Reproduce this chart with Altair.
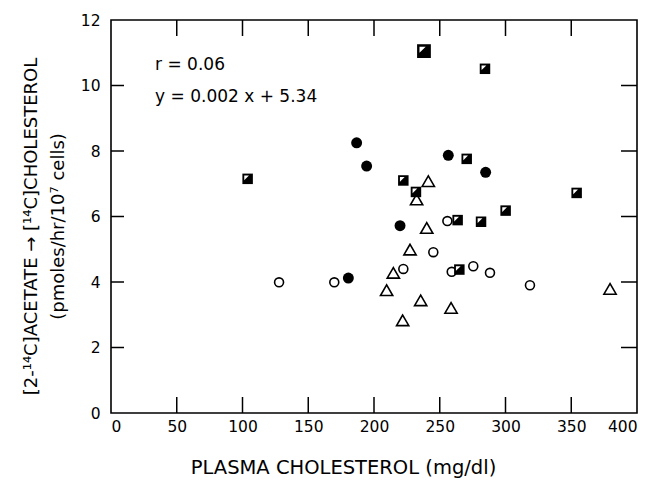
import altair as alt
import pandas as pd

# Filled circles
fc_x = [186.8, 194.4, 256.5, 284.9, 219.8, 180.5]
fc_y = [8.25, 7.54, 7.87, 7.35, 5.72, 4.12]
# Open circles
oc_x = [127.8, 169.8, 255.8, 245.1, 222.3, 259.1, 275.5, 288.2, 318.6]
oc_y = [3.99, 3.99, 5.86, 4.91, 4.40, 4.31, 4.48, 4.28, 3.90]
# Open triangles
tr_x = [241.3, 232.4, 240.1, 227.4, 214.7, 209.6, 235.5, 258.6, 221.8, 379.5]
tr_y = [7.08, 6.52, 5.65, 4.99, 4.28, 3.75, 3.44, 3.21, 2.83, 3.79]
# Half-filled squares
sq_x = [103.9, 284.4, 270.5, 222.3, 231.9, 354.1, 300.1, 263.6, 281.4, 264.9]
sq_y = [7.15, 10.51, 7.76, 7.10, 6.75, 6.72, 6.18, 5.89, 5.84, 4.38]
# Large half-filled square
big_x = [238.0]
big_y = [11.05]

x_ticks = [50, 100, 150, 200, 250, 300, 350]
y_ticks = [2, 4, 6, 8, 10]

ann_text = ["r = 0.06", "y = 0.002 x + 5.34"]
ann_x = [33.5, 33.5]
ann_y = [10.64, 9.66]

W, H = 526, 393
FONT = "DejaVu Sans"

xs = alt.Scale(domain=[0, 400], nice=False, zero=False)
ys = alt.Scale(domain=[0, 12], nice=False, zero=False)

x_axis = alt.Axis(values=[0, 50, 100, 150, 200, 250, 300, 350, 400], ticks=False, domain=False,
                  grid=False, labelFontSize=15.5, labelFont=FONT, labelColor="black",
                  labelPadding=6, title="PLASMA CHOLESTEROL (mg/dl)", titleFont=FONT,
                  titleFontSize=19.5, titleFontWeight="normal", titleColor="black",
                  titleX=232, titleY=60, titleAlign="center", titleBaseline="alphabetic")
y_axis = alt.Axis(values=[0, 2, 4, 6, 8, 10, 12], ticks=False, domain=False, grid=False,
                  labelFontSize=15.5, labelFont=FONT, labelColor="black", labelPadding=11,
                  title=["[2-¹⁴C]ACETATE → [¹⁴C]CHOLESTEROL", "(pmoles/hr/10⁷ cells)"],
                  titleFont=FONT, titleFontSize=18, titleFontWeight="normal",
                  titleColor="black", titlePadding=13, titleLineHeight=27, titleY=206)

def pts(xv, yv):
    return pd.DataFrame({"x": xv, "y": yv})

base_enc = dict(x=alt.X("x:Q", scale=xs, axis=x_axis),
                y=alt.Y("y:Q", scale=ys, axis=y_axis))

filled = alt.Chart(pts(fc_x, fc_y)).mark_point(shape="circle", filled=True, color="black",
                                                size=120, opacity=1).encode(**base_enc)
openc = alt.Chart(pts(oc_x, oc_y)).mark_point(shape="circle", fill="white", stroke="black",
                                               strokeWidth=1.6, size=80, opacity=1).encode(**base_enc)
tri = alt.Chart(pts(tr_x, tr_y)).mark_point(shape="triangle-up", fill="white", stroke="black",
                                             strokeWidth=1.6, size=150, opacity=1).encode(**base_enc)
sq = alt.Chart(pts(sq_x, sq_y)).mark_point(shape="square", filled=True, color="black",
                                            size=110, opacity=1).encode(**base_enc)
half = "M-0.65,-0.65L0.25,-0.65L-0.65,0.25Z"
sq_w = alt.Chart(pts(sq_x, sq_y)).mark_point(shape=half, filled=True, color="white",
                                              size=110, opacity=1).encode(**base_enc)
big = alt.Chart(pts(big_x, big_y)).mark_point(shape="square", filled=True, color="black",
                                               size=190, opacity=1).encode(**base_enc)
big_w = alt.Chart(pts(big_x, big_y)).mark_point(shape=half, filled=True, color="white",
                                                 size=190, opacity=1).encode(**base_enc)

xt = pd.DataFrame({"x": x_ticks})
yt = pd.DataFrame({"y": y_ticks})
tick_bot = alt.Chart(xt).mark_rule(color="black", strokeWidth=1.5).encode(
    x=alt.X("x:Q", scale=xs), y=alt.value(H), y2=alt.value(H - 16))
tick_top = alt.Chart(xt).mark_rule(color="black", strokeWidth=1.5).encode(
    x=alt.X("x:Q", scale=xs), y=alt.value(0), y2=alt.value(16))
tick_left = alt.Chart(yt).mark_rule(color="black", strokeWidth=1.5).encode(
    y=alt.Y("y:Q", scale=ys), x=alt.value(0), x2=alt.value(13))
tick_right = alt.Chart(yt).mark_rule(color="black", strokeWidth=1.5).encode(
    y=alt.Y("y:Q", scale=ys), x=alt.value(W), x2=alt.value(W - 16))

ann = alt.Chart(pd.DataFrame({"t": ann_text, "x": ann_x, "y": ann_y})).mark_text(
    align="left", baseline="middle", fontSize=17, font=FONT, color="black").encode(
    x=alt.X("x:Q", scale=xs), y=alt.Y("y:Q", scale=ys), text="t:N")

chart = alt.layer(tick_bot, tick_top, tick_left, tick_right, openc, tri, filled, sq, sq_w,
                  big, big_w, ann).properties(
    width=W, height=H,
    autosize=alt.AutoSizeParams(type="none"),
    padding={"left": 103, "top": 12, "right": 8, "bottom": 66},
    background="white",
).configure_view(stroke="black", strokeWidth=1.6)

chart.save("out.html", embed_options={"renderer": "svg", "actions": False})
